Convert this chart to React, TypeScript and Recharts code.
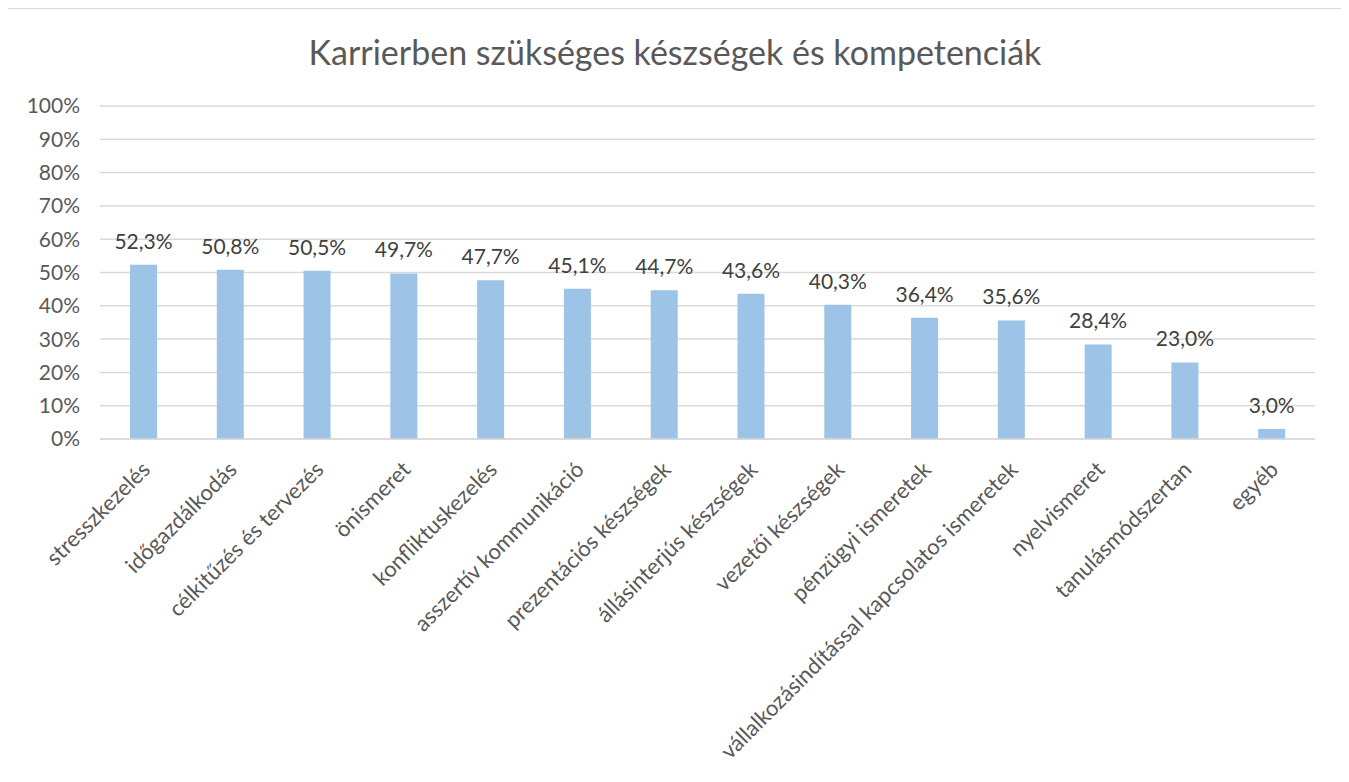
import React from "react";
import { BarChart, Bar, XAxis, YAxis, CartesianGrid, LabelList } from "recharts";

const categories = [
  "stresszkezelés",
  "időgazdálkodás",
  "célkitűzés és tervezés",
  "önismeret",
  "konfliktuskezelés",
  "asszertív kommunikáció",
  "prezentációs készségek",
  "állásinterjús készségek",
  "vezetői készségek",
  "pénzügyi ismeretek",
  "vállalkozásindítással kapcsolatos ismeretek",
  "nyelvismeret",
  "tanulásmódszertan",
  "egyéb",
];

const values = [52.3, 50.8, 50.5, 49.7, 47.7, 45.1, 44.7, 43.6, 40.3, 36.4, 35.6, 28.4, 23.0, 3.0];

const yTicks = [0, 10, 20, 30, 40, 50, 60, 70, 80, 90, 100];

const data = categories.map((name, i) => ({ name, value: values[i] }));

const FONT = "Lato, 'Open Sans', sans-serif";

const fmtLabel = (v: any) => `${Number(v).toFixed(1).replace(".", ",")}%`;

const AngledTick = (props: any) => {
  const { x, y, payload } = props;
  return (
    <g transform={`translate(${x + 8},${y + 24})`}>
      <text
        textAnchor="end"
        transform="rotate(-45)"
        fill="#595959"
        fontSize={22}
        fontFamily={FONT}
      >
        {payload.value}
      </text>
    </g>
  );
};

const App = () => {
  return (
    <div
      style={{
        position: "relative",
        width: 1336,
        height: 780,
        border: "1px solid #d9d9d9",
        boxSizing: "border-box",
        background: "#fff",
        marginLeft: -1,
      }}
    >
      <div
        style={{
          position: "absolute",
          top: 22,
          left: 0,
          width: "100%",
          textAlign: "center",
          fontFamily: FONT,
          fontSize: 34,
          color: "#595959",
        }}
      >
        Karrierben szükséges készségek és kompetenciák
      </div>
      <BarChart
        width={1334}
        height={778}
        data={data}
        margin={{ top: 97, right: 27, bottom: 0, left: 0 }}
      >
        <CartesianGrid vertical={false} stroke="#d9d9d9" strokeWidth={1.5} />
        <XAxis
          dataKey="name"
          interval={0}
          height={348}
          tickLine={false}
          axisLine={{ stroke: "#d9d9d9", strokeWidth: 1.5 }}
          tick={<AngledTick />}
        />
        <YAxis
          width={92}
          domain={[0, 100]}
          ticks={yTicks}
          interval={0}
          tickFormatter={(v) => `${v}%`}
          axisLine={false}
          tickLine={false}
          tickMargin={14}
          tick={{ fill: "#595959", fontSize: 21, fontFamily: FONT }}
        />
        <Bar dataKey="value" fill="#9dc3e6" barSize={27} isAnimationActive={false}>
          <LabelList
            dataKey="value"
            position="top"
            offset={16}
            formatter={fmtLabel}
            fill="#404040"
            fontSize={21}
            fontFamily={FONT}
          />
        </Bar>
      </BarChart>
    </div>
  );
};

export default App;
